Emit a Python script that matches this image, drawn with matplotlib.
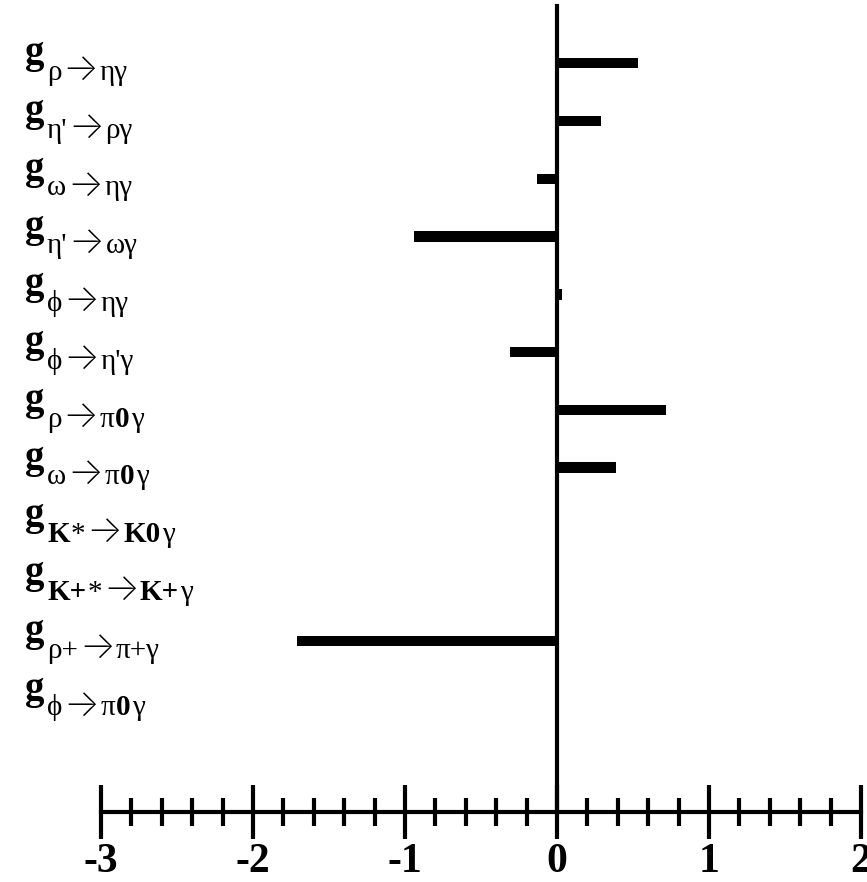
import numpy as np
import matplotlib
matplotlib.use('Agg')
import matplotlib.pyplot as plt
import matplotlib.transforms as mtrans
from matplotlib.ticker import MultipleLocator

plt.rcParams['axes.unicode_minus'] = False

# subscript of each coupling g, top to bottom
# pieces: (text, kind) with kind 'r' regular, 'b' bold, 'a' arrow
R, B, A = 'r', 'b', 'a'
subscripts = [
    [('ρ', R), ('→', A), ('ηγ', R)],
    [("η'", R), ('→', A), ('ργ', R)],
    [('ω', R), ('→', A), ('ηγ', R)],
    [("η'", R), ('→', A), ('ωγ', R)],
    [('ϕ', R), ('→', A), ('ηγ', R)],
    [('ϕ', R), ('→', A), ("η'γ", R)],
    [('ρ', R), ('→', A), ('π', R), ('0', B), ('γ', R)],
    [('ω', R), ('→', A), ('π', R), ('0', B), ('γ', R)],
    [('K', B), ('*', R), ('→', A), ('K0', B), ('γ', R)],
    [('K+', B), ('*', R), ('→', A), ('K+', B), ('γ', R)],
    [('ρ+', R), ('→', A), ('π+γ', R)],
    [('ϕ', R), ('→', A), ('π', R), ('0', B), ('γ', R)],
]
values = [0.53, 0.29, -0.13, -0.94, 0.03, -0.31, 0.72, 0.39, 0.0, 0.0, -1.71, 0.01]
y = np.arange(len(values))

fig = plt.figure(figsize=(8.67, 8.82), dpi=100)
ax = fig.add_axes([101/867, 1 - 812/882, 760/867, 806/882])

ax.barh(y, values, height=0.18, color='black')
ax.set_xlim(-3, 2)
ax.set_ylim(12.96, -0.99)

ax.spines['top'].set_visible(False)
ax.spines['right'].set_visible(False)
ax.spines['left'].set_position(('data', 0))
ax.spines['left'].set_linewidth(3)
ax.spines['bottom'].set_linewidth(3)
ax.set_yticks([])

ax.xaxis.set_major_locator(MultipleLocator(1))
ax.xaxis.set_minor_locator(MultipleLocator(0.2))
ax.tick_params(axis='x', which='major', direction='inout', length=39, width=3, pad=3)
ax.tick_params(axis='x', which='minor', direction='inout', length=20, width=3)
for t in ax.get_xticklabels():
    t.set_fontfamily('Liberation Serif')
    t.set_fontweight('bold')
    t.set_fontsize(30)

# labels: big bold g, then a lowered subscript built piece by piece
renderer = fig.canvas.get_renderer()
trans = mtrans.blended_transform_factory(fig.transFigure, ax.transData)
x0 = 25/867
for i, pieces in enumerate(subscripts):
    ax.annotate('g', xy=(x0, i), xycoords=trans, xytext=(0, 0),
                textcoords='offset points', fontsize=28, fontweight='bold',
                family='Liberation Serif', va='baseline', ha='left')
    dx = 22*0.72
    for s, kind in pieces:
        if kind == A:
            fam, size, w = ['Inter', 'DejaVu Sans'], 27, 'light'
        else:
            fam, size = ['Liberation Serif', 'DejaVu Serif'], 21
            w = 'bold' if kind == B else 'normal'
        t = ax.annotate(s, xy=(x0, i), xycoords=trans, xytext=(dx, -12),
                        textcoords='offset points', fontsize=size,
                        fontweight=w, family=fam, va='baseline', ha='left')
        dx += t.get_window_extent(renderer).width*72/fig.dpi + 0.8

fig.savefig('out.png', dpi=100)
